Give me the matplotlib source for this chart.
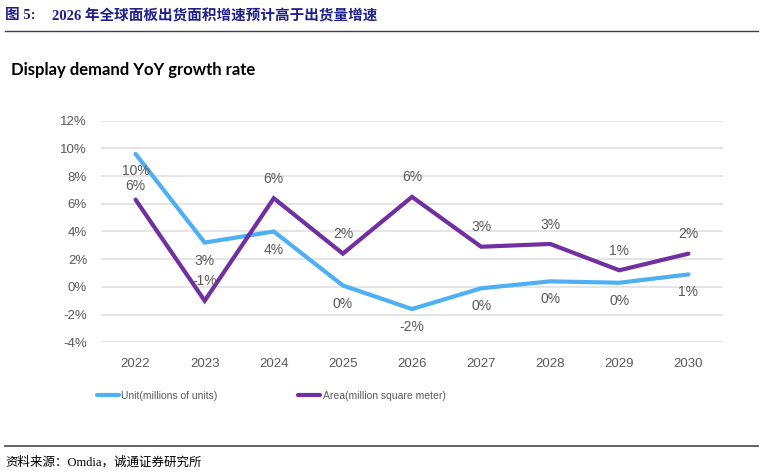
import numpy as np
import matplotlib.pyplot as plt
from matplotlib.lines import Line2D

years = ['2022', '2023', '2024', '2025', '2026', '2027', '2028', '2029', '2030']
unit_yoy = [9.6, 3.2, 4.0, 0.1, -1.6, -0.1, 0.4, 0.3, 0.9]
area_yoy = [6.3, -1.0, 6.4, 2.4, 6.5, 2.9, 3.1, 1.2, 2.4]
unit_labels = ['10%', '3%', '4%', '0%', '-2%', '0%', '0%', '0%', '1%']
area_labels = ['6%', '-1%', '6%', '2%', '6%', '3%', '3%', '1%', '2%']

blue = '#4DB0F2'
purple = '#7030A0'
grey = '#595959'
sans = ['Liberation Sans', 'DejaVu Sans']
serif_cjk = ['Liberation Serif', 'Noto Sans CJK SC', 'DejaVu Sans']

fig = plt.figure(figsize=(7.6, 4.76), dpi=100)
W, H = 760, 476

# header
fig.text(5 / W, 1 - 16 / H, '图 5:', fontsize=10.5, fontweight='bold', color='#1F1F8A',
         family=serif_cjk, va='center', ha='left')
fig.text(52 / W, 1 - 16 / H, '2026 年全球面板出货面积增速预计高于出货量增速', fontsize=10.5,
         fontweight='bold', color='#1F1F8A', family=serif_cjk, va='center', ha='left')
fig.add_artist(Line2D([5 / W, 758 / W], [1 - 31 / H] * 2, color='#404040', lw=1))

fig.text(11 / W, 1 - 70 / H, 'Display demand YoY growth rate', fontsize=12, fontweight='bold',
         family=['Lato', 'DejaVu Sans'], color='black', va='center', ha='left')

ax = fig.add_axes([101 / W, 1 - 342.3 / H, (723 - 101) / W, (342.3 - 120.7) / H])
x = np.arange(len(years))
ax.plot(x, unit_yoy, color=blue, lw=3, solid_capstyle='round', solid_joinstyle='miter',
        label='Unit(millions of units)', zorder=3)
ax.plot(x, area_yoy, color=purple, lw=3, solid_capstyle='round', solid_joinstyle='miter',
        label='Area(million square meter)', zorder=3)

for i in range(len(years)):
    down = -12 if i == 0 else -13
    ax.annotate(unit_labels[i], (x[i], unit_yoy[i]), xytext=(0, down), textcoords='offset points',
                ha='center', va='center', fontsize=10, color=grey, family=sans)
    up = 10 if i == 0 else 14
    ax.annotate(area_labels[i], (x[i], area_yoy[i]), xytext=(0, up), textcoords='offset points',
                ha='center', va='center', fontsize=10, color=grey, family=sans)

ax.set_xlim(-0.5, len(years) - 0.5)
ax.set_ylim(-4, 12)
ax.set_yticks(np.arange(-4, 13, 2))
ax.set_yticklabels([f'{v}%' for v in range(-4, 13, 2)])
ax.set_xticks(x)
ax.set_xticklabels(years)
for lab in ax.get_xticklabels() + ax.get_yticklabels():
    lab.set_family(sans)
ax.tick_params(axis='both', length=0, labelsize=9.5, labelcolor=grey)
ax.tick_params(axis='y', pad=10)
ax.tick_params(axis='x', pad=11)
ax.grid(axis='y', color='#E3E3E3', lw=1.3)
ax.set_axisbelow(True)
for s in ax.spines.values():
    s.set_visible(False)

fig.legend(loc='center left', bbox_to_anchor=(97 / W, 1 - 396 / H), ncol=2, frameon=False,
           borderpad=0, borderaxespad=0, handlelength=2.1, handletextpad=0.25,
           columnspacing=7.7, prop={'family': sans, 'size': 7.5},
           labelcolor=grey)

fig.add_artist(Line2D([5 / W, 758 / W], [1 - 446 / H] * 2, color='#555555', lw=1.3))
fig.text(5 / W, 1 - 462 / H, '资料来源：Omdia，诚通证券研究所', fontsize=9, color='black',
         family=serif_cjk, va='center', ha='left')

fig.savefig('out.png', dpi=100)
